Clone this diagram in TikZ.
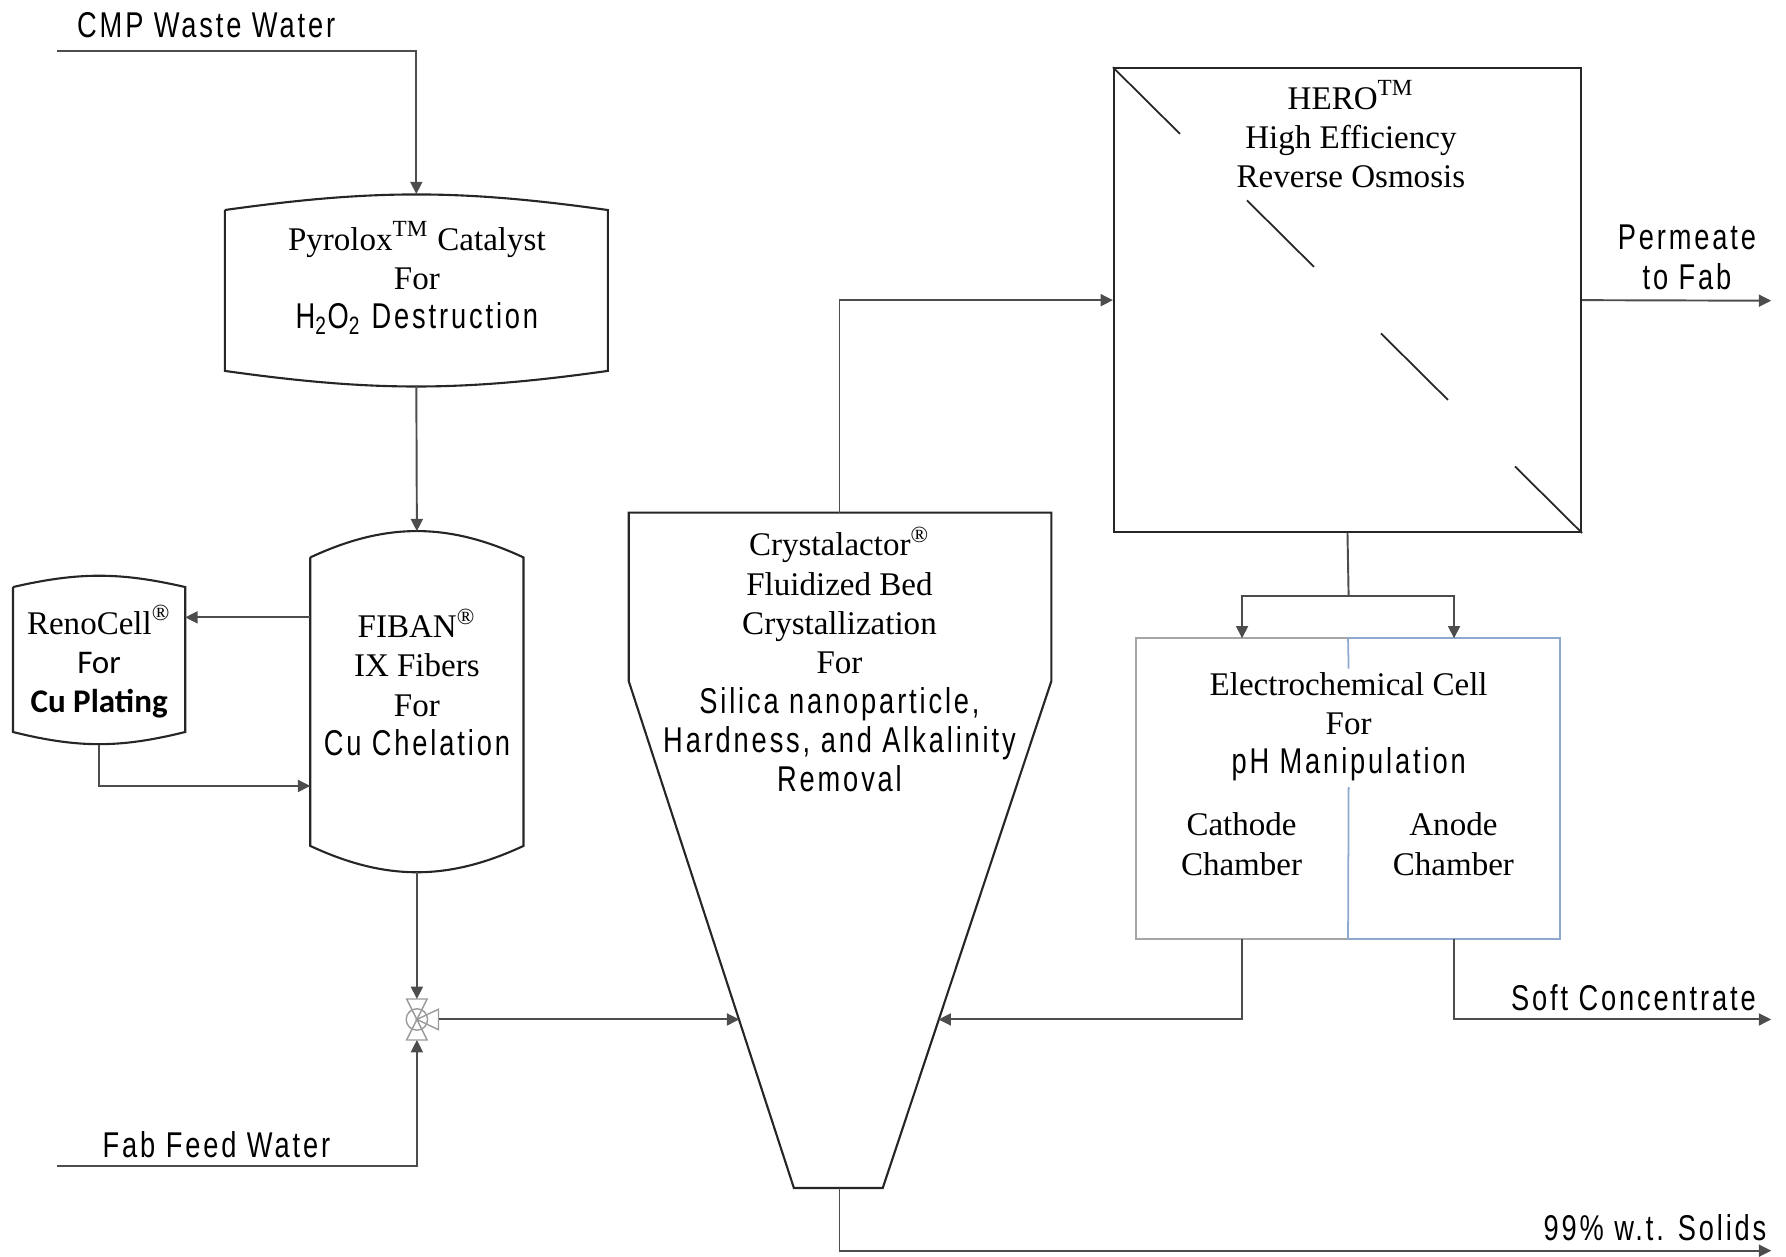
\documentclass[tikz,border=0pt]{standalone}
\usepackage{fontspec}
\setmainfont{Liberation Serif}
\newfontfamily\narrowsf[FakeStretch=0.76,LetterSpace=8]{Liberation Sans}
\newfontfamily\calisf{Carlito}
\usetikzlibrary{arrows.meta,calc}
\definecolor{pipegray}{HTML}{4D4D4D}
\definecolor{cellgray}{HTML}{A6A6A6}
\definecolor{cellblue}{HTML}{8EA9CF}
\definecolor{valvegray}{HTML}{9A9A9A}
\newcommand{\px}{0.1139mm}
\newcommand{\nar}{\fontsize{10.2}{11.2}\selectfont\narrowsf}

\begin{document}
\begin{tikzpicture}[x=0.1139mm, y=-0.1139mm,
	vessel/.style={draw=black!85, line width=0.6pt},
	pipe/.style={draw=pipegray, line width=0.55pt},
	flow/.style={pipe, -{Triangle[length=3.5pt,width=3.4pt]}},
	unit/.style={align=center, inner sep=0pt, font=\fontsize{9.4}{11.2}\selectfont},
	stream/.style={align=center, inner sep=0pt, font=\nar}]
	
	\useasboundingbox (0,0) rectangle (1568,1103);
	
	% vessel bodies (straight part)
	\node[minimum width=335*\px, minimum height=140*\px] (pyro) at (365.5, 255) {};
	\node[minimum width=186*\px, minimum height=252*\px] (fiban) at (366, 616) {};
	\node[minimum width=150*\px, minimum height=126*\px] (reno) at (87, 579) {};
	\node[draw=black!85, line width=0.6pt, minimum width=410*\px, minimum height=407*\px] (hero) at (1183, 263.5) {};
	\node[minimum width=371*\px, minimum height=263*\px] (cell) at (1183.5, 692.5) {};
	
	\draw[vessel] (pyro.north west) -- (pyro.south west) to[bend right=8] (pyro.south east) -- (pyro.north east) to[bend right=8] (pyro.north west);
	\draw[vessel] (fiban.north west) -- (fiban.south west) to[bend right=25] (fiban.south east) -- (fiban.north east) to[bend right=25] (fiban.north west);
	\draw[vessel] (reno.north west) -- (reno.south west) to[bend right=14] (reno.south east) -- (reno.north east) to[bend right=13] (reno.north west);
	
	% crystallizer
	\draw[vessel] (552,450) -- (923,450) -- (923,598) -- (775,1043) -- (697,1043) -- (552,598) -- cycle;
	\coordinate (crys) at (737,450);
	\coordinate (crysbot) at (737,1043);
	\coordinate (crysin) at (649,895);
	\coordinate (cryscat) at (824,895);
	
	% membrane line
	\foreach \s in {0,1,2,3}
		\draw[black!85, line width=0.5pt] ($(hero.north west)!{\s*0.2857}!(hero.south east)$) -- ($(hero.north west)!{\s*0.2857+0.1429}!(hero.south east)$);
	
	% electrochemical cell
	\draw[cellgray, line width=0.5pt] (cell.north) -- (cell.north west) -- (cell.south west) -- (cell.south);
	\draw[cellblue, line width=0.5pt] (cell.north) -- (cell.north east) -- (cell.south east) -- (cell.south);
	\draw[cellblue, line width=0.5pt] (cell.north) -- (1184,587);
	\draw[cellblue, line width=0.5pt] (1184,691) -- (cell.south);
	\coordinate (cath) at ($(cell.north west)!0.5!(cell.north)$);
	\coordinate (anod) at ($(cell.north east)!0.5!(cell.north)$);
	\coordinate (cathout) at ($(cell.south west)!0.5!(cell.south)$);
	\coordinate (anodout) at ($(cell.south east)!0.5!(cell.south)$);
	
	% valve
	\coordinate (valve) at (366, 895);
	\begin{scope}[valvegray, line width=0.4pt]
		\draw (357,877) -- (375,877) -- (valve) -- cycle;
		\draw (357,913) -- (375,913) -- (valve) -- cycle;
		\draw (valve) circle[radius=9.4*\px];
		\draw (valve) -- (385,886) -- (385,904) -- cycle;
		\fill (valve) circle[radius=0.4pt];
	\end{scope}
	\coordinate (valvetop) at (366,877);
	\coordinate (valvebot) at (366,913);
	\coordinate (valveout) at (385,895);
	
	% free ends
	\coordinate (cmpin) at (50,45);
	\coordinate (feedin) at (50,1024);
	\coordinate (permout) at (1555,264);
	\coordinate (softout) at (1555,895);
	\coordinate (solidout) at (1555,1098);
	
	% texts
	\node[unit] (pyrotxt) at (366,244) {Pyrolox\textsuperscript{TM} Catalyst\\For\\\nar H\textsubscript{2}O\textsubscript{2} Destruction};
	\node[unit] (fibantxt) at (366,599) {FIBAN\textsuperscript{\textregistered}\\IX Fibers\\For\\\nar Cu Chelation};
	\node[unit] (renotxt) at (87,581) {RenoCell\textsuperscript{\textregistered}\\\calisf For\\\calisf\bfseries Cu Plating};
	\node[unit] (crystxt) at (737,579) {Crystalactor\textsuperscript{\textregistered}\\Fluidized Bed\\Crystallization\\For\\\nar Silica nanoparticle,\\\nar Hardness, and Alkalinity\\\nar Removal};
	\node[unit] (herotxt) at (1186,118) {HERO\textsuperscript{TM}\\High Efficiency\\Reverse Osmosis};
	\node[unit] (celltxt) at (1184,638) {Electrochemical Cell\\For\\\nar pH Manipulation};
	\node[unit] (cathtxt) at (1090,741) {Cathode\\Chamber};
	\node[unit] (anodtxt) at (1276,741) {Anode\\Chamber};
	\node[stream] (cmptxt) at (181,22) {CMP Waste Water};
	\node[stream] (feedtxt) at (190,1005) {Fab Feed Water};
	\node[stream] (permtxt) at (1481,226) {Permeate\\to Fab};
	\node[stream] (softtxt) at (1434,876) {Soft Concentrate};
	\node[stream] (solidtxt) at (1453,1078) {99\% w.t. Solids};
	
	% flows
	\draw[flow] (cmpin) -| ([yshift=14*\px]pyro.north);
	\draw[flow] ([yshift=-13*\px]pyro.south) -- ([yshift=23*\px]fiban.north);
	\draw[flow] (fiban.north west |- 0,542) -- (reno.east |- 0,542);
	\draw[flow] ([yshift=-11*\px]reno.south) |- (fiban.west |- 0,690);
	\draw[flow] ([yshift=-23*\px]fiban.south) -- (valvetop);
	\draw[flow] (feedin) -| (valvebot);
	\draw[flow] (valveout) -- (crysin);
	\draw[flow] (crys) |- (hero.west);
	\draw[flow] (hero.east) -- (permout);
	\draw[pipe] (hero.south) -- (1184,523);
	\draw[flow] (1184,523) -| (cath);
	\draw[flow] (1184,523) -| (anod);
	\draw[flow] (cathout) |- (cryscat);
	\draw[flow] (anodout) |- (softout);
	\draw[flow] (crysbot) |- (solidout);
	
\end{tikzpicture}
\end{document}
